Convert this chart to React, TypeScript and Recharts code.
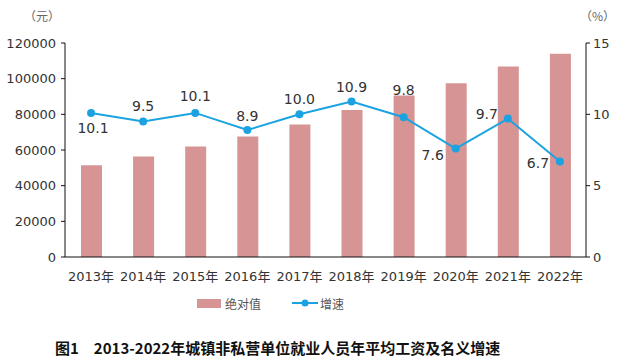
import { ComposedChart, Bar, Line, XAxis, YAxis, LabelList } from "recharts";

const years = ["2013年", "2014年", "2015年", "2016年", "2017年", "2018年", "2019年", "2020年", "2021年", "2022年"];
const wages = [51483, 56360, 62029, 67569, 74318, 82413, 90501, 97379, 106837, 114029];
const growth = [10.1, 9.5, 10.1, 8.9, 10.0, 10.9, 9.8, 7.6, 9.7, 6.7];
const wageTicks = [0, 20000, 40000, 60000, 80000, 100000, 120000];
const growthTicks = [0, 5, 10, 15];

// label offsets from each point (dx, dy)
const LABEL_OFFSETS: [number, number][] = [
  [2, 15], [0, -15], [0, -17], [0, -14], [0, -15], [0, -14], [0, -27], [-23, 6], [-21, -5], [-22, 2],
];

const BAR_COLOR = "#d69494";
const LINE_COLOR = "#1ba3e1";
const FONT = "'DejaVu Sans', 'Noto Sans CJK SC', sans-serif";
const CJK = "'Noto Sans CJK SC', sans-serif";

const data = years.map((y, i) => ({ year: y, wage: wages[i], rate: growth[i] }));

function RateLabel(props: any) {
  const { x, y, index, value } = props;
  const [dx, dy] = LABEL_OFFSETS[index] ?? [0, -15];
  return (
    <text
      x={x + dx}
      y={y + dy}
      textAnchor="middle"
      dominantBaseline="central"
      fontSize={14}
      fill="#333"
      fontFamily={FONT}
    >
      {Number(value).toFixed(1)}
    </text>
  );
}

function LegendBox() {
  return (
    <div style={{ position: "absolute", left: 0, top: 295, width: 619, height: 20, fontFamily: CJK, fontSize: 12, color: "#555" }}>
      <span style={{ position: "absolute", left: 197, top: 4, width: 24, height: 9, background: BAR_COLOR }} />
      <span style={{ position: "absolute", left: 225, top: 0, lineHeight: "17px" }}>绝对值</span>
      <svg style={{ position: "absolute", left: 292, top: 2 }} width={26} height={12}>
        <line x1={0} y1={6} x2={26} y2={6} stroke={LINE_COLOR} strokeWidth={2} />
        <circle cx={13} cy={6} r={3.5} fill={LINE_COLOR} />
      </svg>
      <span style={{ position: "absolute", left: 320, top: 0, lineHeight: "17px" }}>增速</span>
    </div>
  );
}

export default function App() {
  return (
    <div style={{ position: "absolute", left: 0, top: 0, width: 619, height: 359, background: "#fff", overflow: "hidden" }}>
      <div style={{ position: "absolute", left: 24, top: 7, fontSize: 12, color: "#666", fontFamily: CJK }}>（元）</div>
      <div style={{ position: "absolute", left: 580, top: 7, fontSize: 12, color: "#666", fontFamily: CJK }}>（%）</div>
      <ComposedChart
        width={619}
        height={290}
        data={data}
        margin={{ top: 43, right: 0, bottom: 8, left: 0 }}
        barCategoryGap={0}
      >
        <XAxis
          dataKey="year"
          tickLine={false}
          axisLine={{ stroke: "#111" }}
          tick={{ fontSize: 13, fill: "#333", fontFamily: FONT }}
          tickMargin={9}
          height={25}
          interval={0}
        />
        <YAxis
          yAxisId="left"
          domain={[0, 120000]}
          ticks={wageTicks}
          width={65}
          axisLine={{ stroke: "#111" }}
          tickLine={{ stroke: "#111" }}
          tickSize={4}
          tickMargin={5}
          tick={{ fontSize: 13, fill: "#333", fontFamily: FONT }}
        />
        <YAxis
          yAxisId="right"
          orientation="right"
          domain={[0, 15]}
          ticks={growthTicks}
          width={33}
          axisLine={{ stroke: "#111" }}
          tickLine={{ stroke: "#111" }}
          tickSize={4}
          tickMargin={3}
          tick={{ fontSize: 13, fill: "#333", fontFamily: FONT }}
        />
        <Bar yAxisId="left" dataKey="wage" name="绝对值" fill={BAR_COLOR} barSize={21} isAnimationActive={false} />
        <Line
          yAxisId="right"
          dataKey="rate"
          name="增速"
          stroke={LINE_COLOR}
          strokeWidth={2}
          dot={{ r: 4, fill: LINE_COLOR, stroke: LINE_COLOR, strokeWidth: 0 }}
          activeDot={false}
          isAnimationActive={false}
        >
          <LabelList dataKey="rate" content={<RateLabel />} />
        </Line>
      </ComposedChart>
      <LegendBox />
      <div
        style={{
          position: "absolute",
          left: 55,
          top: 339,
          fontSize: 15,
          lineHeight: "18px",
          fontWeight: 700,
          color: "#111",
          fontFamily: "'Noto Sans CJK SC', serif",
          whiteSpace: "nowrap",
        }}
      >
        图1　2013-2022年城镇非私营单位就业人员年平均工资及名义增速
      </div>
    </div>
  );
}
